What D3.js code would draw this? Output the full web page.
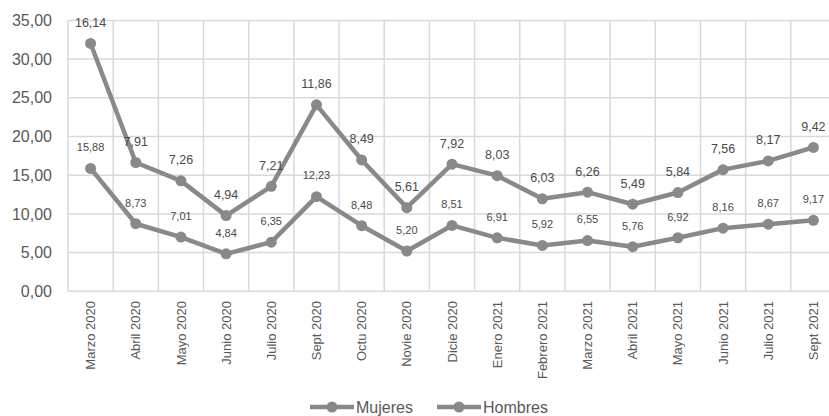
<!DOCTYPE html>
<html>
<head>
<meta charset="utf-8">
<script src="https://cdn.jsdelivr.net/npm/d3@7"></script>
<style>
  body { margin: 0; background: white; }
  text { font-family: "Liberation Sans", Arial, sans-serif; }
</style>
</head>
<body>
<div id="container"></div>
<script>
let w = 829;
let h = 416;

// data
let categories = ["Marzo 2020", "Abril 2020", "Mayo 2020", "Junio 2020", "Julio 2020", "Sept 2020",
  "Octu 2020", "Novie 2020", "Dicie 2020", "Enero 2021", "Febrero 2021", "Marzo 2021",
  "Abril 2021", "Mayo 2021", "Junio 2021", "Julio 2021", "Sept 2021"];
let mujeres = [15.88, 8.73, 7.01, 4.84, 6.35, 12.23, 8.48, 5.20, 8.51, 6.91, 5.92, 6.55, 5.76, 6.92, 8.16, 8.67, 9.17];
let hombres = [16.14, 7.91, 7.26, 4.94, 7.21, 11.86, 8.49, 5.61, 7.92, 8.03, 6.03, 6.26, 5.49, 5.84, 7.56, 8.17, 9.42];
let yTicks = [0, 5, 10, 15, 20, 25, 30, 35];
let seriesNames = ["Mujeres", "Hombres"];

let lineColor = "#898989";
let fmt = v => d3.format(".2f")(v).replace(".", ",");

let viz = d3.select("#container").append("svg")
    .attr("width", w)
    .attr("height", h)
    .style("background-color", "white")
;

let x = d3.scaleBand().domain(categories).range([68, 836]);
let y = d3.scaleLinear().domain([0, 35]).range([291.3, 20.4]);
let cx = d => x(d) + x.bandwidth() / 2;

// stacked: upper line is mujeres + hombres
let stacked = mujeres.map((m, i) => m + hombres[i]);

// grid
viz.append("g").selectAll("line").data(yTicks).enter()
  .append("line")
    .attr("x1", 68).attr("x2", 836)
    .attr("y1", d => y(d)).attr("y2", d => y(d))
    .attr("stroke", "#d9d9d9").attr("stroke-width", 1.5);
viz.append("g").selectAll("line").data(categories.concat(["end"])).enter()
  .append("line")
    .attr("x1", (d, i) => 68 + i * x.step()).attr("x2", (d, i) => 68 + i * x.step())
    .attr("y1", y(35)).attr("y2", y(0))
    .attr("stroke", "#d9d9d9").attr("stroke-width", 1.5);

// y labels
viz.append("g").selectAll("text").data(yTicks).enter()
  .append("text")
    .attr("x", 52).attr("y", d => y(d))
    .attr("dy", "0.35em")
    .attr("text-anchor", "end")
    .attr("font-size", 16)
    .attr("fill", "#595959")
    .text(d => fmt(d));

// x labels
viz.append("g").selectAll("text").data(categories).enter()
  .append("text")
    .attr("transform", d => "translate(" + cx(d) + ",301) rotate(-90)")
    .attr("dy", "0.35em")
    .attr("text-anchor", "end")
    .attr("font-size", 13)
    .attr("fill", "#595959")
    .text(d => d);

let lineMaker = d3.line().x((d, i) => cx(categories[i])).y(d => y(d));

function drawSeries(vals, labels, size) {
  viz.append("path")
    .attr("d", lineMaker(vals))
    .attr("fill", "none")
    .attr("stroke", lineColor)
    .attr("stroke-width", 4.5)
    .attr("stroke-linejoin", "round");
  viz.append("g").selectAll("circle").data(vals).enter()
    .append("circle")
      .attr("cx", (d, i) => cx(categories[i]))
      .attr("cy", d => y(d))
      .attr("r", 5.5)
      .attr("fill", lineColor);
  viz.append("g").selectAll("text").data(vals).enter()
    .append("text")
      .attr("x", (d, i) => cx(categories[i]))
      .attr("y", d => y(d) - 21)
      .attr("dy", "0.35em")
      .attr("text-anchor", "middle")
      .attr("font-size", size)
      .attr("fill", "#4a4a4a")
      .text((d, i) => fmt(labels[i]));
}

drawSeries(mujeres, mujeres, 11);
drawSeries(stacked, hombres, 12.5);

// legend
let legend = viz.append("g").selectAll("g").data(seriesNames).enter()
  .append("g")
    .attr("transform", (d, i) => "translate(" + (310 + i * 127) + ",407)");
legend.append("line")
    .attr("x1", 0).attr("x2", 44)
    .attr("stroke", lineColor).attr("stroke-width", 4.5);
legend.append("circle")
    .attr("cx", 22).attr("r", 5.5).attr("fill", lineColor);
legend.append("text")
    .attr("x", 46).attr("dy", "0.35em")
    .attr("font-size", 16)
    .attr("fill", "#595959")
    .text(d => d);
</script>
</body>
</html>
